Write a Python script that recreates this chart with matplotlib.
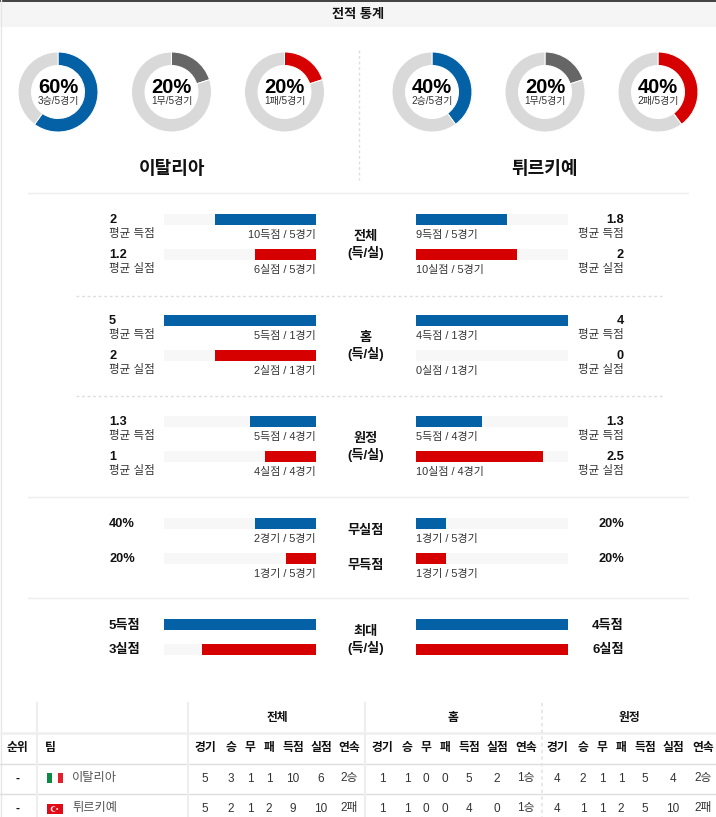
import matplotlib
matplotlib.use('Agg')
import matplotlib.pyplot as plt
from matplotlib.patches import Rectangle, Circle

plt.rcParams['font.family'] = ['Liberation Sans', 'Noto Sans CJK KR', 'DejaVu Sans']

BLUE = '#0561a6'
RED = '#d60000'
GRAY = '#666666'
RING = '#d9d9d9'
TRACK = '#f7f7f7'
DARK = '#111111'
SUB = '#333333'

teams = ['이탈리아', '튀르키예']

# donut charts
donut_pct = [[60, 20, 20], [40, 20, 40]]
donut_sub = [['3승/5경기', '1무/5경기', '1패/5경기'], ['2승/5경기', '1무/5경기', '2패/5경기']]
donut_colors = [BLUE, GRAY, RED]

# average rows
avg_groups = ['전체', '홈', '원정']
avg_left = [[2, 1.2], [5, 2], [1.3, 1]]
avg_right = [[1.8, 2], [4, 0], [1.3, 2.5]]
avg_left_txt = [['10득점 / 5경기', '6실점 / 5경기'], ['5득점 / 1경기', '2실점 / 1경기'], ['5득점 / 4경기', '4실점 / 4경기']]
avg_right_txt = [['9득점 / 5경기', '10실점 / 5경기'], ['4득점 / 1경기', '0실점 / 1경기'], ['5득점 / 4경기', '10실점 / 4경기']]
avg_names = ['평균 득점', '평균 실점']

# clean sheet / no score
pct_names = ['무실점', '무득점']
pct_left = [40, 20]
pct_right = [20, 20]
pct_left_txt = ['2경기 / 5경기', '1경기 / 5경기']
pct_right_txt = ['1경기 / 5경기', '1경기 / 5경기']

# biggest
max_left = [5, 3]
max_right = [4, 6]
max_suffix = ['득점', '실점']

# table
table_groups = ['전체', '홈', '원정']
table_cols = ['경기', '승', '무', '패', '득점', '실점', '연속']
table_italy = [5, 3, 1, 1, 10, 6, '2승', 1, 1, 0, 0, 5, 2, '1승', 4, 2, 1, 1, 5, 4, '2승']
table_turkey = [5, 2, 1, 2, 9, 10, '2패', 1, 1, 0, 0, 4, 0, '1승', 4, 1, 1, 2, 5, 10, '2패']

fig = plt.figure(figsize=(7.16, 8.17), dpi=100)
ax = fig.add_axes([0, 0, 1, 1])


def txt(x, y, s, size=8.3, weight='normal', color=SUB, ha='left'):
    # text sits about 1px high when centred, so push it down
    ax.text(x, y + 1, s, fontsize=size, fontweight=weight, color=color, ha=ha, va='center')


def draw_bar(y, val, scale, color, side, h=11):
    frac = min(val / scale, 1)
    w = frac * 152
    if side == 'left':
        ax.barh(y, 152, left=164, height=h, color=TRACK)
        ax.barh(y, w, left=316 - w, height=h, color=color)
    else:
        ax.barh(y, 152, left=416, height=h, color=TRACK)
        ax.barh(y, w, left=416, height=h, color=color)


def fmt(v):
    return f'{v:g}'


# header band
ax.add_patch(Rectangle((0, 0), 716, 27, color='#f5f5f5', lw=0))
ax.plot([0, 716], [0.5, 0.5], color='#222222', lw=1.2)
ax.plot([0.5, 0.5], [0, 817], color='#e6e6e6', lw=1)
txt(358.5, 13.5, '전적 통계', 9.5, 'bold', DARK, 'center')

# donuts
centers = [[58, 171.5, 284.5], [432, 545, 658]]
for t in range(2):
    for i in range(3):
        cx = centers[t][i]
        pct = donut_pct[t][i]
        ax.pie([pct, 100 - pct], colors=[donut_colors[i], RING], center=(cx, 92), radius=40,
               startangle=-90, counterclock=True, frame=True,
               wedgeprops={'width': 13.5, 'edgecolor': 'white', 'linewidth': 0.7})
        txt(cx, 86.5, f'{pct}%', 14.5, 'bold', '#000000', 'center')
        txt(cx, 100, donut_sub[t][i], 7.2, 'normal', SUB, 'center')

txt(172, 168.5, teams[0], 13, 'bold', DARK, 'center')
txt(545, 168.5, teams[1], 13, 'bold', DARK, 'center')
ax.plot([359, 359], [50, 180], color='#dddddd', lw=1, ls=(0, (2, 2)))

# separators
for y in [193, 497, 598]:
    ax.plot([28, 688], [y, y], color='#eeeeee', lw=1)
for y in [296, 396]:
    ax.plot([76, 662], [y, y], color='#dddddd', lw=1, ls=(0, (2, 2)))

# average rows
group_y = [219, 320, 421]
for g, y0 in enumerate(group_y):
    for r in range(2):
        y = y0 + r * 35
        color = BLUE if r == 0 else RED
        draw_bar(y, avg_left[g][r], 3, color, 'left')
        draw_bar(y, avg_right[g][r], 3, color, 'right')
        txt(109, y, fmt(avg_left[g][r]), 9.2, 'bold', DARK)
        txt(109, y + 14, avg_names[r], 8.3)
        txt(316, y + 15, avg_left_txt[g][r], 7.9, ha='right')
        txt(416, y + 15, avg_right_txt[g][r], 7.9)
        txt(624, y, fmt(avg_right[g][r]), 9.2, 'bold', DARK, 'right')
        txt(624, y + 14, avg_names[r], 8.3, ha='right')
    txt(366, y0 + 16.5, avg_groups[g], 9.5, 'bold', DARK, 'center')
    txt(366, y0 + 33, '(득/실)', 9.5, 'bold', DARK, 'center')

# clean sheet rows
for r in range(2):
    y = 523 + r * 35
    color = BLUE if r == 0 else RED
    draw_bar(y, pct_left[r], 100, color, 'left')
    draw_bar(y, pct_right[r], 100, color, 'right')
    txt(109, y, f'{pct_left[r]}%', 9.2, 'bold', DARK)
    txt(624, y, f'{pct_right[r]}%', 9.2, 'bold', DARK, 'right')
    txt(316, y + 15, pct_left_txt[r], 7.9, ha='right')
    txt(416, y + 15, pct_right_txt[r], 7.9)
    txt(366, y + 7, pct_names[r], 9.5, 'bold', DARK, 'center')

# biggest rows
for r in range(2):
    y = 624.5 + r * 24.5
    color = BLUE if r == 0 else RED
    draw_bar(y, max_left[r], 4, color, 'left')
    draw_bar(y, max_right[r], 4, color, 'right')
    txt(109, y, f'{max_left[r]}{max_suffix[r]}', 9.5, 'bold', DARK)
    txt(624, y, f'{max_right[r]}{max_suffix[r]}', 9.5, 'bold', DARK, 'right')
txt(366, 630.5, '최대', 9.5, 'bold', DARK, 'center')
txt(366, 647, '(득/실)', 9.5, 'bold', DARK, 'center')

# table
ax.plot([0, 716], [732.5, 732.5], color='#f0f0f0', lw=2)
for y in [763.5, 793.5]:
    ax.plot([0, 716], [y, y], color='#dedede', lw=1)
for x in [37, 188, 365]:
    ax.plot([x, x], [703, 817], color='#eeeeee', lw=1.5)
ax.plot([542, 542], [703, 817], color='#e4e4e4', lw=1.2, ls=(0, (2, 2)))

col_x = [205, 231, 250, 269, 293, 321, 349,
         382, 407, 426, 445, 469, 497, 526,
         557, 583, 602, 621, 645, 673, 703]
for g, x in zip(table_groups, [277, 453, 629]):
    txt(x, 717, g, 8.5, 'bold', DARK, 'center')
txt(17, 747, '순위', 8.5, 'bold', DARK, 'center')
txt(45, 747, '팀', 8.5, 'bold', DARK)
for i, x in enumerate(col_x):
    txt(x, 747, table_cols[i % 7], 8.5, 'bold', DARK, 'center')
    txt(x, 777.5, str(table_italy[i]), 8.5, 'normal', SUB, 'center')
    txt(x, 807.5, str(table_turkey[i]), 8.5, 'normal', SUB, 'center')
for y in [777.5, 807.5]:
    txt(17, y, '-', 8.5, 'bold', DARK, 'center')
txt(72, 776.5, teams[0], 8.8, 'normal', '#555555')
txt(72, 806.5, teams[1], 8.8, 'normal', '#555555')

# flags
ax.add_patch(Rectangle((47, 773), 5.3, 10, color='#0b8a45', lw=0))
ax.add_patch(Rectangle((52.3, 773), 5.3, 10, color='#ffffff', lw=0))
ax.add_patch(Rectangle((57.6, 773), 5.4, 10, color='#e3202c', lw=0))
ax.add_patch(Rectangle((47, 804), 16, 10, color='#e30a17', lw=0))
ax.add_patch(Circle((53.5, 809), 2.8, color='#ffffff', lw=0))
ax.add_patch(Circle((54.4, 809), 2.2, color='#e30a17', lw=0))
ax.add_patch(Circle((57.2, 809), 0.9, color='#ffffff', lw=0))

ax.set_xlim(0, 716)
ax.set_ylim(817, 0)
ax.set_aspect('auto')
ax.axis('off')
fig.savefig('out.png', dpi=100)
